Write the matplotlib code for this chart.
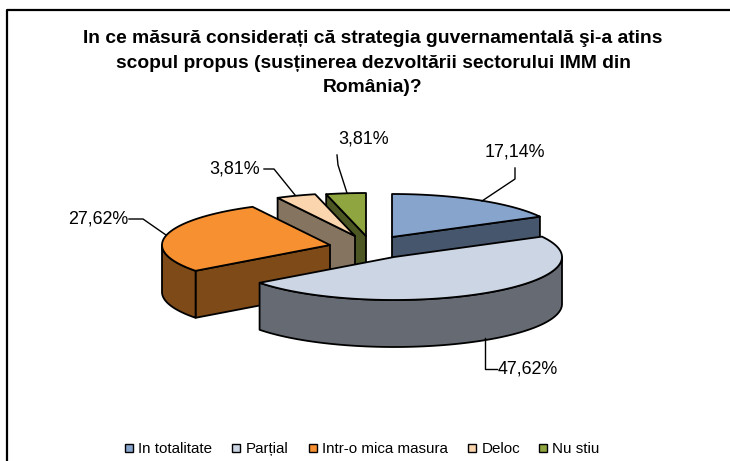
"""Exploded 3D-look pie: Romanian SME strategy survey. Drawn in pixel coords of the 730x461 figure."""
import numpy as np
import matplotlib
matplotlib.use("Agg")
import matplotlib.pyplot as plt
from matplotlib.patches import Polygon, Rectangle

plt.rcParams['font.family'] = ['Liberation Sans', 'DejaVu Sans']

# ---------------- data ----------------
categories = ["In totalitate", "Parțial", "Intr-o mica masura", "Deloc", "Nu stiu"]
shares = [17.14, 47.62, 27.62, 3.81, 3.81]
share_labels = ["17,14%", "47,62%", "27,62%", "3,81%", "3,81%"]
title_lines = ["In ce măsură considerați că strategia guvernamentală şi-a atins",
               "scopul propus (susținerea dezvoltării sectorului IMM din",
               "România)?"]

# ---------------- styling ----------------
top_colors = ["#87A4CC", "#CBD5E3", "#F79030", "#FBD5AD", "#8FA53F"]
wall_colors = ["#46566C", "#666B73", "#7D4A18", "#857560", "#4C5723"]
centers = [(392, 237), (394, 257), (330, 245), (355, 236), (366, 236)]
RX, RY, DEPTH = 168.0, 43.0, 47.0
draw_order = [0, 4, 3, 2, 1]     # back to front
LW = 1.3

# label position, leader line
label_pos = [(515, 152), (528, 369), (98, 219), (235, 169), (364, 139)]
leaders = [[(515, 168), (515, 179), (482, 201)],
           [(485, 338), (485, 369), (497, 369)],
           [(129, 219), (143, 219), (166, 235)],
           [(264, 169), (274, 169), (295, 195)],
           [(337, 155), (338, 165), (347, 193)]]
legend_x = [125, 232, 309, 468, 539]
title_y = [43, 67.5, 92]

fig = plt.figure(figsize=(7.30, 4.61), dpi=100)
ax = fig.add_axes([0, 0, 1, 1])
ax.set_xlim(0, 730)
ax.set_ylim(461, 0)
ax.axis("off")


def rim(cx, cy, t):
    return np.column_stack([cx + RX * np.sin(t), cy - RY * np.cos(t)])


def add_poly(pts, color, z):
    ax.add_patch(Polygon(pts, closed=True, fc=color, ec="black", lw=LW,
                         joinstyle="round", zorder=z))


edges = np.radians(np.cumsum([0.0] + shares) * 360.0 / sum(shares))
down = np.array([0.0, DEPTH])

for n, i in enumerate(draw_order):
    cx, cy = centers[i]
    t0, t1 = edges[i], edges[i + 1]
    apex = np.array([cx, cy], dtype=float)
    z = 2 + n

    # radial walls facing the viewer
    for t, visible in ((t0, np.sin(t0) < -1e-6), (t1, np.sin(t1) > 1e-6)):
        if visible:
            p = rim(cx, cy, np.array([t]))[0]
            add_poly([apex, p, p + down, apex + down], wall_colors[i], z)

    # curved wall: only the front half of the rim
    a, b = max(t0, np.pi / 2), min(t1, 3 * np.pi / 2)
    if b > a:
        arc = rim(cx, cy, np.linspace(a, b, 80))
        add_poly(np.vstack([arc, arc[::-1] + down]), wall_colors[i], z)

    # top face
    arc = rim(cx, cy, np.linspace(t0, t1, 120))
    add_poly(np.vstack([apex, arc]), top_colors[i], z)

# leader lines and value labels
for pts, pos, txt in zip(leaders, label_pos, share_labels):
    xs, ys = zip(*pts)
    ax.plot(xs, ys, color="black", lw=1.0, zorder=20)
    ax.text(pos[0], pos[1], txt, ha="center", va="center", fontsize=12.9,
            color="black", zorder=21)

for y, line in zip(title_y, title_lines):
    ax.text(373, y, line, ha="center", va="baseline", fontsize=13.9, fontweight="bold",
            color="black")

# legend
for x, cat, col in zip(legend_x, categories, top_colors):
    ax.add_patch(Rectangle((x, 444), 8, 8, fc=col, ec="black", lw=1.0))
    ax.text(x + 13.5, 449, cat, ha="left", va="center", fontsize=10.9, color="black")

# chart frame: left and top only, right and bottom run off the picture
ax.plot([7, 7, 730], [461, 10, 10], color="black", lw=1.6, zorder=30)

fig.savefig("out.png", dpi=100)
